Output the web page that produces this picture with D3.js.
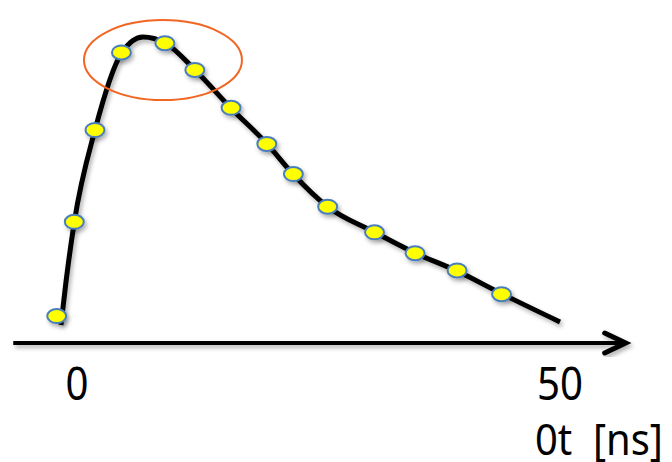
<html>
<head>
<script src="https://cdn.jsdelivr.net/npm/d3@7"></script>
<style>
  body { margin: 0; background: #fff; }
  .chart text { font-family: "Noto Sans", "Open Sans", sans-serif; fill: #000; }
</style>
</head>
<body>
<svg class="chart"></svg>
<script>
  // fitted curve (t in ns, amplitude in %)
  var curveT = [-1.66, -1.14, -0.28, 1.86, 4.61, 6.83, 9.11, 12.22, 15.94, 19.67, 22.36, 25.98, 30.75, 34.99, 39.34, 44.0, 50.0];
  var curveA = [6.5, 20.5, 39.9, 69.8, 94.8, 100, 98.1, 89.3, 76.9, 65.3, 55.5, 44.8, 36.7, 29.9, 24.0, 16.6, 7.5];

  // sampled points
  var sampleT = [-2.1, -0.28, 1.86, 4.6, 9.1, 12.2, 15.95, 19.65, 22.4, 25.95, 30.8, 35.0, 39.35, 43.95];
  var sampleA = [9.4, 40.0, 69.8, 95.0, 98.0, 89.3, 77.0, 65.3, 55.5, 44.9, 36.6, 29.8, 24.2, 16.5];

  var tickValues = [0, 50];
  var tickLabels = ["0", "50"];
  var axisTitle = "0t  [ns]";
  var axisExtent = [-6.6, 56.8];
  var highlight = { t: 8.9, a: 92.5 };

  var width = 672, height = 462;

  var x = d3.scaleLinear().domain([0, 50]).range([77, 560]);
  var y = d3.scaleLinear().domain([0, 100]).range([345, 37]);

  var svg = d3.select(".chart").attr("width", width).attr("height", height);

  var defs = svg.append("defs");
  var f = defs.append("filter").attr("id", "shadow")
    .attr("x", "-20%").attr("y", "-20%").attr("width", "140%").attr("height", "140%");
  f.append("feDropShadow").attr("dx", 2).attr("dy", 3).attr("stdDeviation", 2)
    .attr("flood-color", "#000").attr("flood-opacity", 0.3);

  // time axis with arrow
  var axisY = y(0) - 2;
  var ax = svg.append("g").attr("filter", "url(#shadow)");
  ax.append("line")
    .attr("x1", x(axisExtent[0])).attr("x2", x(axisExtent[1]) - 2)
    .attr("y1", axisY).attr("y2", axisY)
    .attr("stroke", "#000").attr("stroke-width", 4);
  var tip = x(axisExtent[1]);
  ax.append("path")
    .attr("d", "M" + (tip - 21) + "," + (axisY - 10) + "L" + tip + "," + axisY + "L" + (tip - 21) + "," + (axisY + 10))
    .attr("fill", "none").attr("stroke", "#000").attr("stroke-width", 5)
    .attr("stroke-linecap", "round").attr("stroke-linejoin", "miter");

  // narrow the glyphs a little, the original font is condensed
  svg.selectAll(".tick-label")
    .data(tickValues)
    .enter().append("text")
      .attr("class", "tick-label")
      .attr("x", function(d, i) { return x(d) - tickLabels[i].length * 11.5; })
      .attr("y", 400)
      .attr("font-size", "45px")
      .attr("textLength", function(d, i) { return tickLabels[i].length * 23; })
      .attr("lengthAdjust", "spacingAndGlyphs")
      .text(function(d, i) { return tickLabels[i]; });

  svg.append("text")
    .attr("x", 535).attr("y", 455)
    .attr("font-size", "44px")
    .attr("xml:space", "preserve")
    .style("white-space", "pre")
    .attr("textLength", 128)
    .attr("lengthAdjust", "spacingAndGlyphs")
    .text(axisTitle);

  // the curve
  var curveData = curveT.map(function(t, i) { return [t, curveA[i]]; });
  var line = d3.line()
    .x(function(d) { return x(d[0]); })
    .y(function(d) { return y(d[1]); })
    .curve(d3.curveMonotoneX);

  svg.append("path")
    .datum(curveData)
    .attr("d", line)
    .attr("fill", "none")
    .attr("stroke", "#000")
    .attr("stroke-width", 5)
    .attr("filter", "url(#shadow)");

  // sample markers
  var samples = sampleT.map(function(t, i) { return [t, sampleA[i]]; });
  svg.append("g").attr("filter", "url(#shadow)")
    .selectAll("ellipse")
    .data(samples)
    .enter().append("ellipse")
      .attr("cx", function(d) { return x(d[0]); })
      .attr("cy", function(d) { return y(d[1]); })
      .attr("rx", 9.5)
      .attr("ry", 7)
      .attr("fill", "#ffff00")
      .attr("stroke", "#4a7ebb")
      .attr("stroke-width", 2);

  // orange highlight around the peak
  svg.append("ellipse")
    .attr("cx", x(highlight.t))
    .attr("cy", y(highlight.a))
    .attr("rx", 79)
    .attr("ry", 40)
    .attr("fill", "none")
    .attr("stroke", "#f26522")
    .attr("stroke-width", 2);
</script>
</body>
</html>
